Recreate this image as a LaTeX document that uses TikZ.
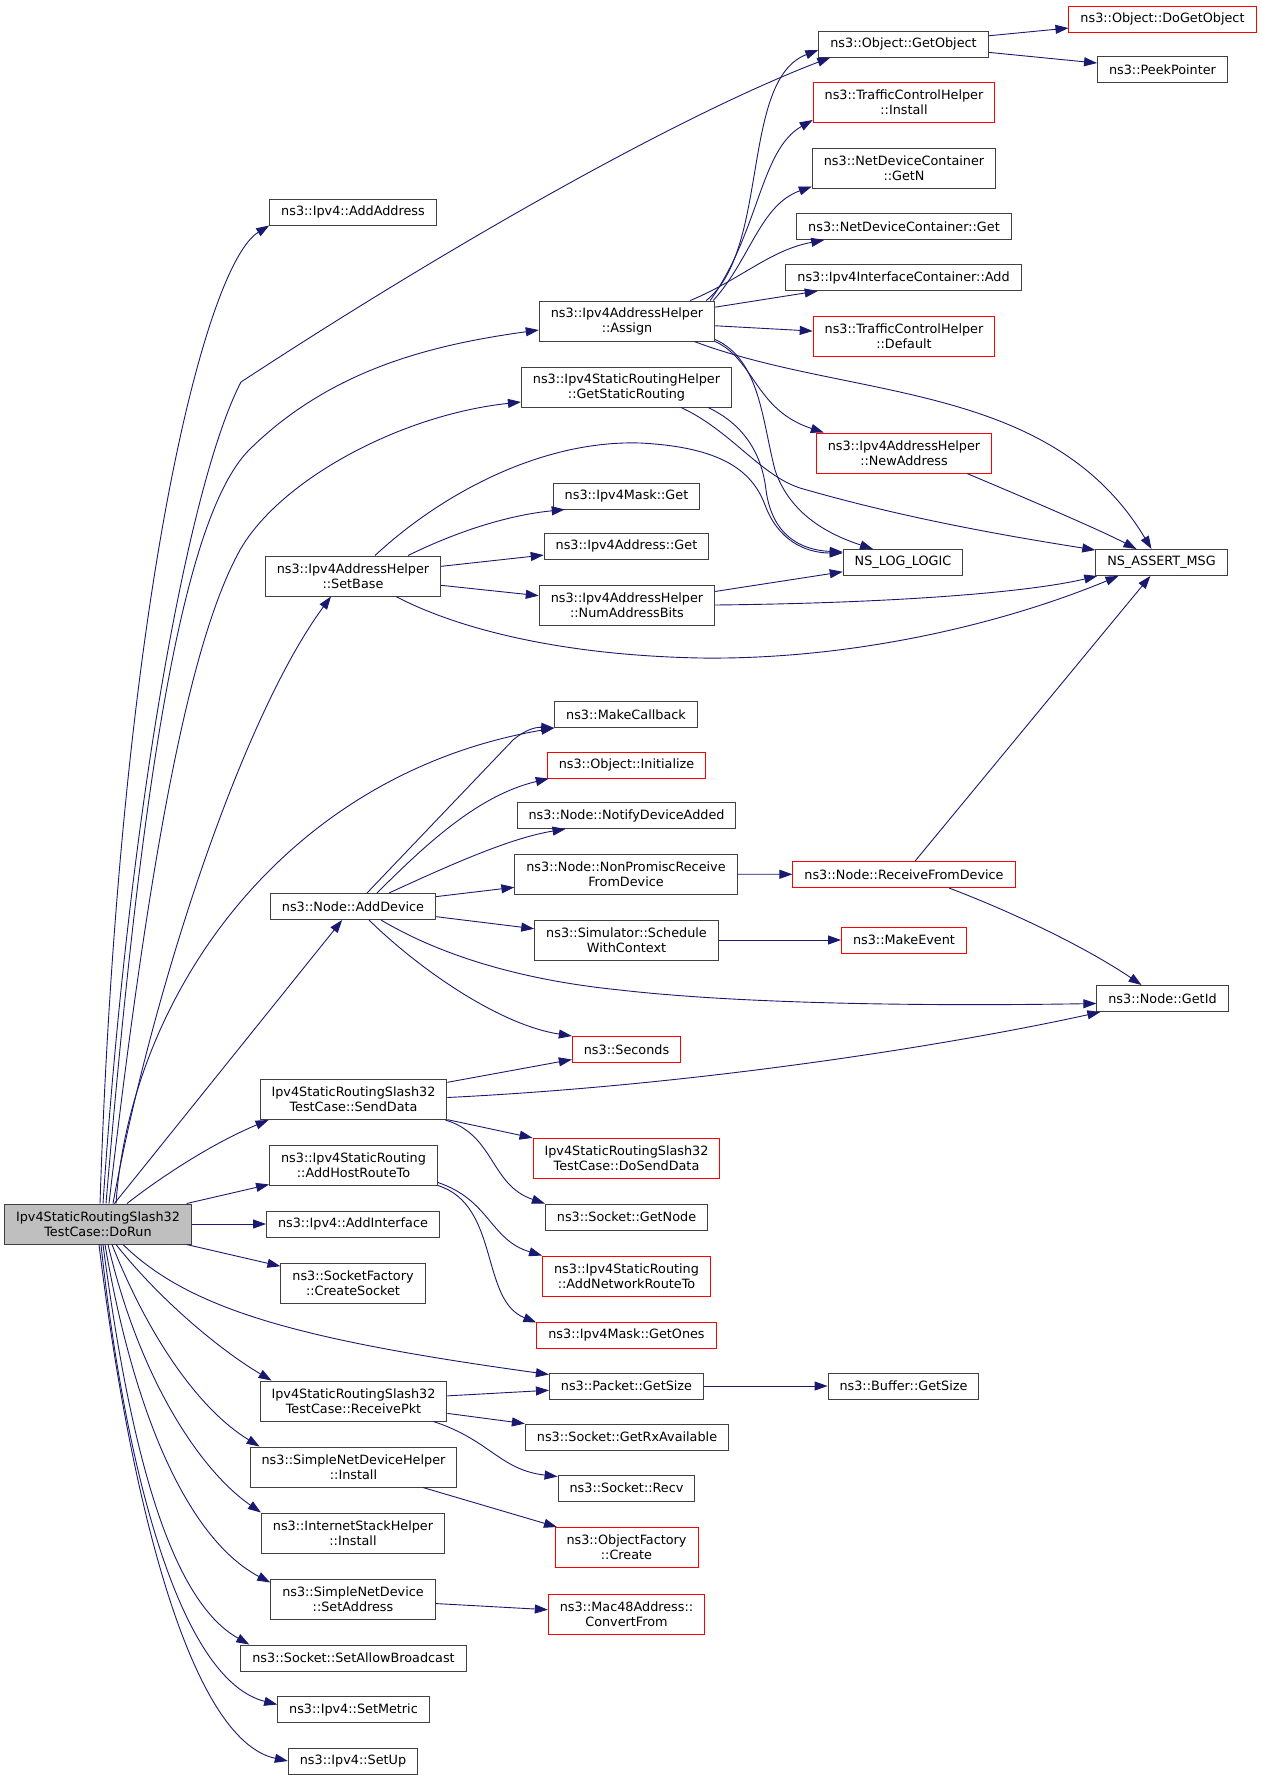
\documentclass[tikz,border=0pt]{standalone}
\usepackage{fontspec}
\setmainfont{DejaVu Sans}
\usetikzlibrary{arrows.meta}
\definecolor{edgeblue}{HTML}{191970}
\definecolor{rootgray}{HTML}{BFBFBF}
\begin{document}
\begin{tikzpicture}[x=1pt,y=-1pt,line cap=butt,line join=miter,>={Triangle[length=13pt,width=9pt]},
		font=\fontsize{12.8}{15}\selectfont]
	\tikzset{fn/.style={draw=black!75,fill=white,line width=1pt,inner xsep=11.5pt,inner ysep=0pt,
			minimum height=26pt,align=center},
		fnred/.style={fn,draw=red},
		fnroot/.style={fn,fill=rootgray},
		twoline/.style={minimum height=40pt},
		call/.style={->,draw=edgeblue,line width=0.9pt}}
	\useasboundingbox (0,0) rectangle (1261,1775);
	% caller
	\node[fnroot,twoline] (DoRun) at (98,1224) {Ipv4StaticRoutingSlash32\\TestCase::DoRun};
	% first column of callees
	\node[fn] (AddAddress) at (353,212) {ns3::Ipv4::AddAddress};
	\node[fn,twoline] (SetBase) at (353,576) {ns3::Ipv4AddressHelper\\::SetBase};
	\node[fn] (AddDevice) at (353,906.5) {ns3::Node::AddDevice};
	\node[fn,twoline] (SendData) at (353.5,1099.5) {Ipv4StaticRoutingSlash32\\TestCase::SendData};
	\node[fn,twoline] (AddHostRouteTo) at (353.5,1165) {ns3::Ipv4StaticRouting\\::AddHostRouteTo};
	\node[fn] (AddInterface) at (353,1224) {ns3::Ipv4::AddInterface};
	\node[fn,twoline] (CreateSocket) at (353,1283) {ns3::SocketFactory\\::CreateSocket};
	\node[fn,twoline] (ReceivePkt) at (353.5,1401) {Ipv4StaticRoutingSlash32\\TestCase::ReceivePkt};
	\node[fn,twoline] (SNDHInstall) at (353.5,1467) {ns3::SimpleNetDeviceHelper\\::Install};
	\node[fn,twoline] (ISHInstall) at (353,1533) {ns3::InternetStackHelper\\::Install};
	\node[fn,twoline] (SetAddress) at (353,1599) {ns3::SimpleNetDevice\\::SetAddress};
	\node[fn] (SetAllowBroadcast) at (353.5,1658) {ns3::Socket::SetAllowBroadcast};
	\node[fn] (SetMetric) at (353.5,1709.5) {ns3::Ipv4::SetMetric};
	\node[fn] (SetUp) at (353,1761) {ns3::Ipv4::SetUp};
	% second column
	\node[fn,twoline] (Assign) at (627,321) {ns3::Ipv4AddressHelper\\::Assign};
	\node[fn,twoline] (GetStaticRouting) at (626.5,387) {ns3::Ipv4StaticRoutingHelper\\::GetStaticRouting};
	\node[fn] (MaskGet) at (626.5,496) {ns3::Ipv4Mask::Get};
	\node[fn] (AddressGet) at (626.5,546) {ns3::Ipv4Address::Get};
	\node[fn,twoline] (NumAddressBits) at (627,605) {ns3::Ipv4AddressHelper\\::NumAddressBits};
	\node[fn] (MakeCallback) at (626,714.5) {ns3::MakeCallback};
	\node[fnred] (Initialize) at (626.5,765) {ns3::Object::Initialize};
	\node[fn] (NotifyDeviceAdded) at (626.5,815.5) {ns3::Node::NotifyDeviceAdded};
	\node[fn,twoline] (NonPromisc) at (626,874) {ns3::Node::NonPromiscReceive\\FromDevice};
	\node[fn,twoline] (Schedule) at (626.5,940) {ns3::Simulator::Schedule\\WithContext};
	\node[fnred] (Seconds) at (626.5,1049.5) {ns3::Seconds};
	\node[fnred,twoline] (DoSendData) at (626.5,1158) {Ipv4StaticRoutingSlash32\\TestCase::DoSendData};
	\node[fn] (GetNode) at (626.5,1217) {ns3::Socket::GetNode};
	\node[fnred,twoline] (AddNetworkRouteTo) at (626.5,1276) {ns3::Ipv4StaticRouting\\::AddNetworkRouteTo};
	\node[fnred] (GetOnes) at (626.5,1335) {ns3::Ipv4Mask::GetOnes};
	\node[fn] (PacketGetSize) at (626.5,1386) {ns3::Packet::GetSize};
	\node[fn] (GetRxAvailable) at (627,1437) {ns3::Socket::GetRxAvailable};
	\node[fn] (Recv) at (626.5,1488) {ns3::Socket::Recv};
	\node[fnred,twoline] (OFCreate) at (626.5,1547.5) {ns3::ObjectFactory\\::Create};
	\node[fnred,twoline] (ConvertFrom) at (626.5,1614) {ns3::Mac48Address::\\ConvertFrom};
	% third column
	\node[fn] (GetObject) at (903.5,44) {ns3::Object::GetObject};
	\node[fnred,twoline] (TCHInstall) at (904,102.5) {ns3::TrafficControlHelper\\::Install};
	\node[fn,twoline] (GetN) at (904,168) {ns3::NetDeviceContainer\\::GetN};
	\node[fn] (NDCGet) at (904,226.5) {ns3::NetDeviceContainer::Get};
	\node[fn] (IICAdd) at (903.5,277.5) {ns3::Ipv4InterfaceContainer::Add};
	\node[fnred,twoline] (TCHDefault) at (904,336) {ns3::TrafficControlHelper\\::Default};
	\node[fnred,twoline] (NewAddress) at (904,453) {ns3::Ipv4AddressHelper\\::NewAddress};
	\node[fn] (LogLogic) at (903,562.5) {NS\_LOG\_LOGIC};
	\node[fnred] (ReceiveFromDevice) at (904,874.5) {ns3::Node::ReceiveFromDevice};
	\node[fnred] (MakeEvent) at (904,940) {ns3::MakeEvent};
	\node[fn] (BufferGetSize) at (903.5,1386) {ns3::Buffer::GetSize};
	% fourth column
	\node[fnred] (DoGetObject) at (1162.5,19) {ns3::Object::DoGetObject};
	\node[fn] (PeekPointer) at (1162.5,69.5) {ns3::PeekPointer};
	\node[fn] (AssertMsg) at (1161.5,562.5) {NS\_ASSERT\_MSG};
	\node[fn] (GetId) at (1162.5,998.5) {ns3::Node::GetId};
	% straight calls
	\foreach \a/\b in {DoRun/AddDevice,DoRun/AddHostRouteTo,DoRun/AddInterface,DoRun/CreateSocket,
			GetObject/DoGetObject,GetObject/PeekPointer,Assign/IICAdd,Assign/TCHDefault,
			SetBase/AddressGet,SetBase/NumAddressBits,NumAddressBits/LogLogic,
			ReceiveFromDevice/AssertMsg,NonPromisc/ReceiveFromDevice,AddDevice/NonPromisc,
			AddDevice/Schedule,Schedule/MakeEvent,SendData/Seconds,SendData/DoSendData,
			PacketGetSize/BufferGetSize,ReceivePkt/PacketGetSize,ReceivePkt/GetRxAvailable,
			SNDHInstall/OFCreate,SetAddress/ConvertFrom}{
			\draw[call] (\a) -- (\b);}
	% calls leaving the top of DoRun
	\draw[call] ([xshift=2pt]DoRun.north) .. controls (120,600) and (205,265) .. (AddAddress.south west);
	\draw[call] ([xshift=5pt]DoRun.north) .. controls (130,800) and (190,480) .. (241,382)
		.. controls (450,245) and (680,115) .. ([xshift=12pt]GetObject.south west);
	\draw[call] ([xshift=8pt]DoRun.north) .. controls (140,800) and (180,520) .. (249,450)
		.. controls (330,370) and (430,345) .. ([yshift=-9pt]Assign.west);
	\draw[call] ([xshift=11pt]DoRun.north) .. controls (150,850) and (190,640) .. (240,550)
		.. controls (280,480) and (400,415) .. ([yshift=-15pt]GetStaticRouting.west);
	\draw[call] ([xshift=15pt]DoRun.north) .. controls (150,1000) and (240,720) .. ([xshift=-22pt]SetBase.south);
	\draw[call] ([xshift=18pt]DoRun.north) .. controls (130,1000) and (280,775) .. (MakeCallback.south west);
	\draw[call] ([xshift=29pt]DoRun.north) .. controls (170,1170) and (220,1140) .. ([xshift=9pt]SendData.south west);
	% calls leaving the bottom of DoRun
	\draw[call] ([xshift=25pt]DoRun.south) .. controls (190,1310) and (300,1340) .. ([yshift=-2pt]PacketGetSize.north west);
	\draw[call] ([xshift=18pt]DoRun.south) .. controls (160,1300) and (220,1350) .. ([xshift=12pt]ReceivePkt.north west);
	\draw[call] ([xshift=14pt]DoRun.south) .. controls (150,1340) and (200,1410) .. ([xshift=10pt]SNDHInstall.north west);
	\draw[call] ([xshift=10pt]DoRun.south) .. controls (140,1380) and (200,1470) .. (ISHInstall.north west);
	\draw[call] ([xshift=7pt]DoRun.south) .. controls (135,1420) and (190,1540) .. ([yshift=-4pt]SetAddress.north west);
	\draw[call] ([xshift=5pt]DoRun.south) .. controls (130,1450) and (170,1600) .. ([xshift=9pt]SetAllowBroadcast.north west);
	\draw[call] ([xshift=3pt]DoRun.south) .. controls (125,1470) and (180,1680) .. ([yshift=5pt]SetMetric.west);
	\draw[call] ([xshift=1pt]DoRun.south) .. controls (130,1500) and (190,1740) .. (SetUp.west);
	% Assign
	\draw[call] ([xshift=-9pt]Assign.north east) .. controls (770,250) and (740,80) .. ([yshift=-6pt]GetObject.west);
	\draw[call] ([xshift=-5pt]Assign.north east) .. controls (760,230) and (760,150) .. ([yshift=3pt]TCHInstall.south west);
	\draw[call] ([xshift=-2pt]Assign.north east) .. controls (750,260) and (760,205) .. ([yshift=2pt]GetN.south west);
	\draw[call] ([xshift=-25pt]Assign.north east) .. controls (740,280) and (770,250) .. ([xshift=28pt]NDCGet.south west);
	\draw[call] (Assign.south east) .. controls (755,360) and (755,410) .. ([xshift=8pt]NewAddress.north west);
	\draw[call] ([yshift=2pt]Assign.south east) .. controls (760,360) and (762,420) .. (775,470)
		.. controls (790,515) and (830,535) .. ([xshift=-30pt]LogLogic.north);
	\draw[call] ([xshift=-21pt]Assign.south east) .. controls (850,400) and (1050,380) .. ([xshift=-10pt]AssertMsg.north);
	% GetStaticRouting
	\draw[call] ([xshift=-24pt]GetStaticRouting.south east) .. controls (745,425) and (762,455) .. (766,490)
		.. controls (772,535) and (800,550) .. ([yshift=-3pt]LogLogic.north west);
	\draw[call] ([xshift=-51pt]GetStaticRouting.south east) .. controls (730,430) and (760,475) .. (800,488)
		.. controls (900,517) and (1000,535) .. ([yshift=-1pt]AssertMsg.north west);
	% SetBase
	\draw[call] ([xshift=55pt]SetBase.north) .. controls (460,530) and (510,515) .. ([xshift=12pt]MaskGet.south west);
	\draw[call] ([xshift=22pt]SetBase.north) .. controls (440,495) and (540,440) .. (640,443)
		.. controls (720,447) and (752,470) .. (765,505)
		.. controls (778,540) and (805,553) .. ([yshift=-4pt]LogLogic.north west);
	\draw[call] ([xshift=43pt]SetBase.south) .. controls (450,625) and (550,655) .. (700,658)
		.. controls (850,660) and (1000,625) .. ([xshift=-43pt]AssertMsg.south);
	\draw[call] (NumAddressBits.east) .. controls (900,603) and (1030,592) .. ([xshift=2pt]AssertMsg.south west);
	\draw[call] ([xshift=63pt]NewAddress.south) .. controls (1030,500) and (1100,530) .. ([xshift=-25pt]AssertMsg.north);
	% AddDevice
	\draw[call] ([xshift=14pt]AddDevice.north) -- (513,740) .. controls (525,730) and (535,727) .. (MakeCallback.south west);
	\draw[call] ([xshift=24pt]AddDevice.north) .. controls (430,840) and (480,795) .. ([xshift=2pt]Initialize.south west);
	\draw[call] ([xshift=36pt]AddDevice.north) .. controls (450,865) and (510,838) .. ([xshift=49pt]NotifyDeviceAdded.south west);
	\draw[call] ([xshift=16pt]AddDevice.south) .. controls (420,970) and (500,1025) .. (Seconds.north west);
	\draw[call] ([xshift=28pt]AddDevice.south) .. controls (440,955) and (520,980) .. (620,990)
		.. controls (750,1005) and (950,1006) .. ([yshift=-5pt]GetId.west);
	\draw[call] ([xshift=45pt]ReceiveFromDevice.south) .. controls (1020,915) and (1090,950) .. ([xshift=-21pt]GetId.north);
	% SendData, AddHostRouteTo, ReceivePkt
	\draw[call] ([yshift=2pt]SendData.east) .. controls (700,1085) and (950,1045) .. ([xshift=4pt]GetId.south west);
	\draw[call] ([xshift=-2pt]SendData.south east) .. controls (495,1135) and (490,1185) .. (GetNode.north west);
	\draw[call] ([yshift=3pt]AddHostRouteTo.south east) .. controls (490,1200) and (490,1240) .. (AddNetworkRouteTo.north west);
	\draw[call] (AddHostRouteTo.south east) .. controls (500,1205) and (480,1300) .. ([yshift=-1pt]GetOnes.north west);
	\draw[call] ([xshift=-14pt]ReceivePkt.south east) .. controls (490,1440) and (500,1470) .. ([yshift=-2pt]Recv.north west);
\end{tikzpicture}
\end{document}
